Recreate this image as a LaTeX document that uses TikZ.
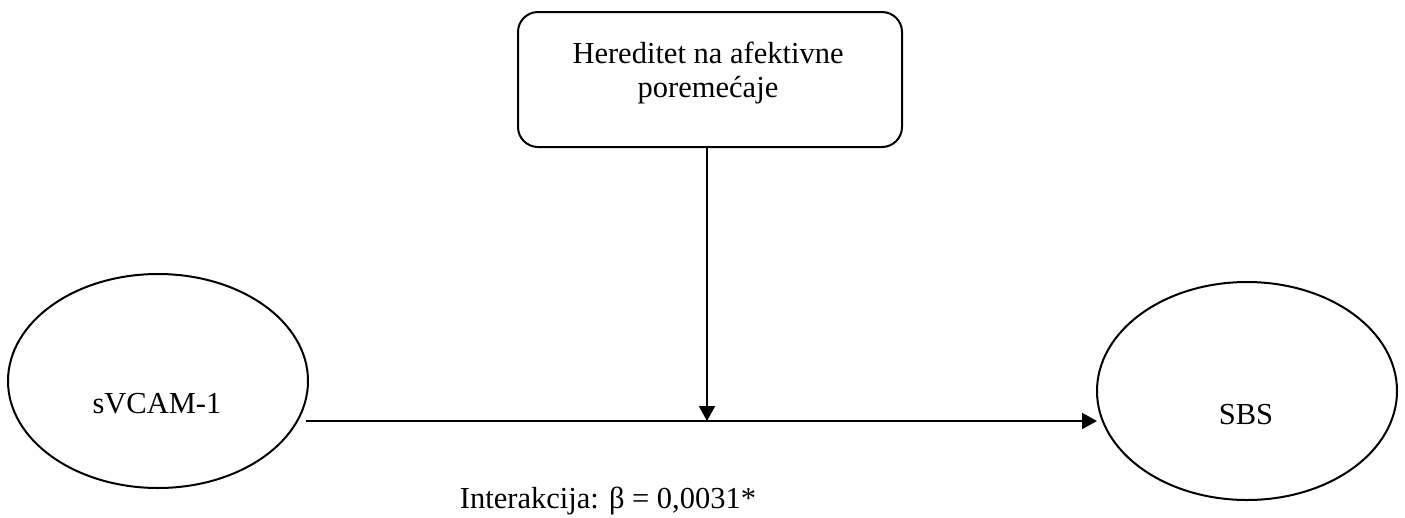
\documentclass[tikz,border=0pt]{standalone}
\usepackage{fontspec}
\setmainfont{Liberation Serif}
\usetikzlibrary{arrows.meta,shapes.geometric}
\begin{document}
\begin{tikzpicture}[x=1pt,y=-1pt,
  every node/.style={font=\fontsize{30.5pt}{35pt}\selectfont, inner sep=0pt},
  ell/.style={draw, line width=2pt, ellipse, minimum width=300pt, minimum height=#1},
  rbox/.style={draw, line width=2pt, rounded corners=20pt, minimum width=384pt, minimum height=135pt},
  conn/.style={line width=2pt, -{Triangle[length=15pt,width=16pt]}},
  lbl/.style={anchor=base}]
\useasboundingbox (0,0) rectangle (1405,517);
% box
\node[rbox] (H) at (710,79.5) {};
\node[lbl] (H1) at (708,63) {Hereditet na afektivne};
\node[lbl] (H2) at (708,97) {poremećaje};
% ellipses
\node[ell=214pt] (L) at (158,381) {};
\node[lbl] (Lt) at (157,413) {sVCAM-1};
\node[ell=218pt] (R) at (1247,391) {};
\node[lbl] (Rt) at (1246,424) {SBS};
% connectors
\coordinate (s) at (306,421);
\coordinate (e) at (1097,421);
\coordinate (m) at (707,421);
\draw[conn] (s) -- (e);
\draw[conn] (H.south -| m) -- (m);
% label
\node[lbl] (I) at (608,508) {Interakcija: β = 0,0031*};
\end{tikzpicture}
\end{document}
